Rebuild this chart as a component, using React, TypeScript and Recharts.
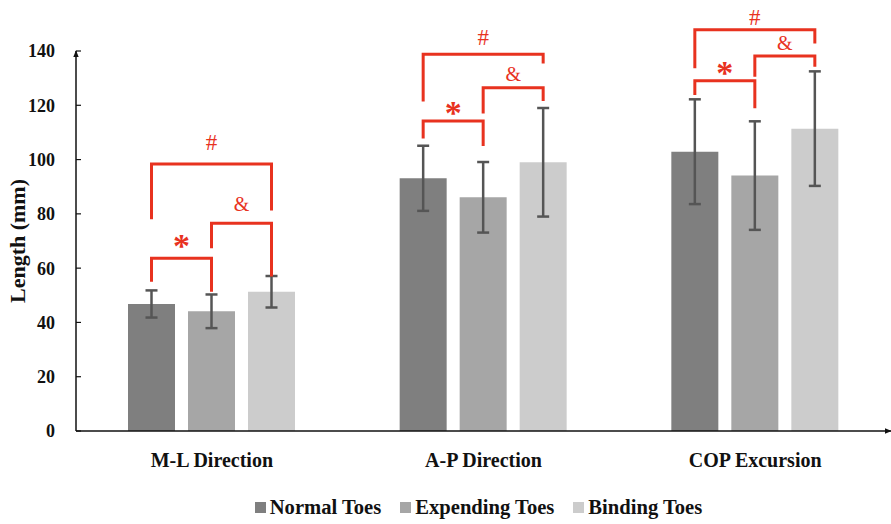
import React from 'react';
import { BarChart, Bar, XAxis, YAxis, ErrorBar, Legend, LabelList } from 'recharts';

const categories = ['M-L Direction', 'A-P Direction', 'COP Excursion'];

const normalMean = [46.8, 93.1, 102.9];
const normalErr = [5, 12, 19.3];
const expendingMean = [44.1, 86.1, 94.1];
const expendingErr = [6.2, 13, 20];
const bindingMean = [51.3, 99, 111.4];
const bindingErr = [5.8, 20, 21.1];

const yTicks = [0, 20, 40, 60, 80, 100, 120, 140];

// significance brackets, in mm: bar level, left leg end, right leg end, symbol bottom
const starLevel = [63.6, 114.2, 129];
const starLeft = [55, 107.8, 123.8];
const starRight = [51.3, 105, 118.9];
const starText = [67.3, 116.4, 131.2];
const ampLevel = [76.5, 126.5, 138.2];
const ampLeft = [67.3, 117, 130.5];
const ampRight = [56.9, 121.6, 134.2];
const ampText = [81.2, 128.9, 140.4];
const hashLevel = [98.4, 138.8, 147.8];
const hashLeft = [78, 121.4, 133.6];
const hashRight = [81.2, 135.4, 142.8];
const hashText = [103.5, 142.2, 149.6];

const data = categories.map((name, i) => ({
  name,
  normal: normalMean[i],
  normalErr: normalErr[i],
  expending: expendingMean[i],
  expendingErr: expendingErr[i],
  binding: bindingMean[i],
  bindingErr: bindingErr[i],
}));

const FONT = '"Liberation Serif", "Times New Roman", serif';
const RED = '#e8321f';
const BAR_SIZE = 47;
const BAR_GAP = 13;

const series = [
  { key: 'normal', name: 'Normal Toes', color: '#7f7f7f' },
  { key: 'expending', name: 'Expending Toes', color: '#a6a6a6' },
  { key: 'binding', name: 'Binding Toes', color: '#cccccc' },
];

function Brackets(props: any) {
  const { x, y, width, height, value, index } = props;
  if (value == null || !height) return null;
  const base = y + height;
  const k = height / value;
  const py = (v: number) => base - v * k;
  const cx = (i: number) => x + width / 2 + i * (width + BAR_GAP);
  const items = [
    { from: 0, to: 1, level: starLevel[index], l: starLeft[index], r: starRight[index], t: starText[index], text: '*', size: 34, weight: 700, dy: 9 },
    { from: 1, to: 2, level: ampLevel[index], l: ampLeft[index], r: ampRight[index], t: ampText[index], text: '&', size: 20, weight: 400, dy: 0 },
    { from: 0, to: 2, level: hashLevel[index], l: hashLeft[index], r: hashRight[index], t: hashText[index], text: '#', size: 23, weight: 400, dy: 0 },
  ];
  return (
    <g>
      {items.map((it, i) => (
        <g key={i}>
          <path
            d={`M${cx(it.from)},${py(it.l)}V${py(it.level)}H${cx(it.to)}V${py(it.r)}`}
            fill="none"
            stroke={RED}
            strokeWidth={3}
          />
          <text
            x={(cx(it.from) + cx(it.to)) / 2}
            y={py(it.t) + it.dy}
            textAnchor="middle"
            fill={RED}
            fontSize={it.size}
            fontWeight={it.weight}
            fontFamily={FONT}
          >
            {it.text}
          </text>
        </g>
      ))}
    </g>
  );
}

function LegendContent() {
  return (
    <div style={{ display: 'flex', justifyContent: 'center', alignItems: 'center', height: 24, gap: 19, fontFamily: FONT, fontWeight: 700, fontSize: 20.6, color: '#111', paddingLeft: 66 }}>
      {series.map((s) => (
        <div key={s.key} style={{ display: 'flex', alignItems: 'center' }}>
          <span style={{ width: 11, height: 11, background: s.color, marginRight: 4, display: 'inline-block' }} />
          <span>{s.name}</span>
        </div>
      ))}
    </div>
  );
}

function YTitle(props: any) {
  const { viewBox } = props;
  const cx = 17;
  const cy = viewBox ? viewBox.y + viewBox.height / 2 : 241;
  return (
    <text x={cx} y={cy} transform={`rotate(-90, ${cx}, ${cy})`} textAnchor="middle" dominantBaseline="central" fontFamily={FONT} fontWeight={700} fontSize={22} fill="#111">
      Length (mm)
    </text>
  );
}

export default function App() {
  const tickStyle = { fontFamily: FONT, fontWeight: 700, fontSize: 18, fill: '#111' };
  const xTickStyle = { ...tickStyle, fontSize: 20 };
  return (
    <div style={{ position: 'absolute', left: 0, top: 0, background: '#fff' }}>
      <BarChart
        width={891}
        height={524}
        data={data}
        margin={{ top: 51, right: 0, left: 0, bottom: 5 }}
        barSize={BAR_SIZE}
        barGap={BAR_GAP}
      >
        <defs>
          <marker id="arrow" viewBox="0 0 10 10" refX="9" refY="5" markerWidth="7" markerHeight="7" orient="auto-start-reverse" markerUnits="userSpaceOnUse">
            <path d="M0,1 L10,5 L0,9 z" fill="#111" />
          </marker>
        </defs>
        <XAxis
          dataKey="name"
          height={64}
          tickLine={false}
          tickMargin={16}
          tick={xTickStyle}
          axisLine={{ stroke: '#111', strokeWidth: 1.5, markerEnd: 'url(#arrow)' }}
        />
        <YAxis
          width={76}
          domain={[0, 140]}
          ticks={yTicks}
          tickSize={-5}
          tickMargin={26}
          tick={tickStyle}
          tickLine={{ stroke: '#111', strokeWidth: 1.2 }}
          axisLine={{ stroke: '#111', strokeWidth: 1.5, markerStart: 'url(#arrow)' }}
          label={<YTitle />}
        />
        <Legend verticalAlign="bottom" content={<LegendContent />} />
        {series.map((s, i) => (
          <Bar key={s.key} dataKey={s.key} name={s.name} fill={s.color} isAnimationActive={false}>
            <ErrorBar dataKey={`${s.key}Err`} width={6} stroke="#555" strokeWidth={2.5} />
            {i === 0 && <LabelList dataKey="normal" content={<Brackets />} />}
          </Bar>
        ))}
      </BarChart>
    </div>
  );
}
